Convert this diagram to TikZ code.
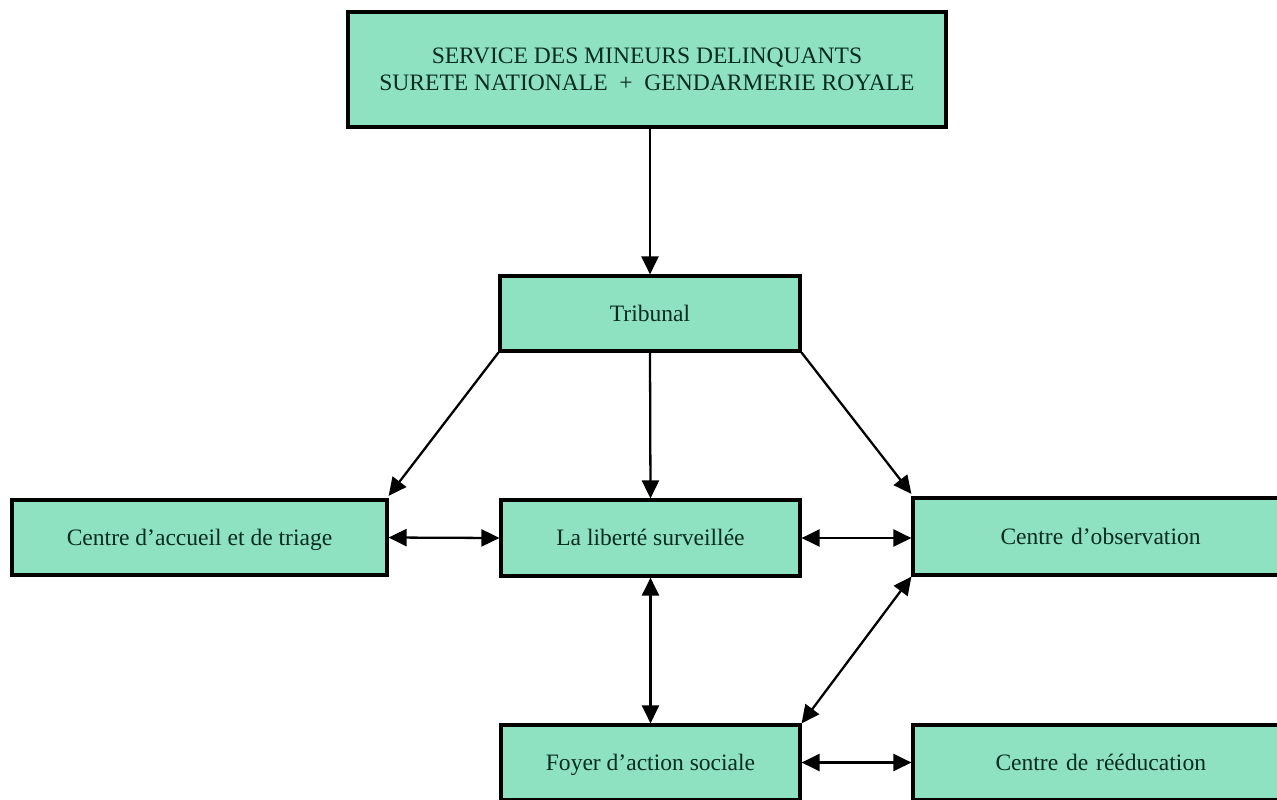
\documentclass[tikz,border=0pt]{standalone}
\usepackage{fontspec}
\setmainfont{Liberation Serif}
\definecolor{boxgreen}{RGB}{142,226,194}
\definecolor{textgreen}{RGB}{8,44,30}
\usetikzlibrary{arrows.meta, positioning}

\tikzset{
  orgbox/.style={draw=black, line width=1.8pt, fill=boxgreen, text=textgreen,
    inner sep=0pt, align=center, font=\fontsize{13.4}{15.6}\selectfont},
  linebox/.style={orgbox, text height=2.2ex, text depth=0.3ex},
  link/.style={line width=1.3pt, {Triangle[length=0.36cm, width=0.34cm]}-{Triangle[length=0.36cm, width=0.34cm]}},
  onelink/.style={line width=1.3pt, -{Triangle[length=0.36cm, width=0.34cm]}}
}

\begin{document}
\begin{tikzpicture}
  \useasboundingbox (0,0) rectangle (25.54,-15.98);
  \clip (0,0) rectangle (25.54,-15.98);

  % top service
  \node[orgbox, minimum width=11.96cm, minimum height=2.30cm] (service) at (12.94,-1.39)
    {SERVICE DES MINEURS DELINQUANTS\\SURETE NATIONALE \ + \ GENDARMERIE ROYALE};

  % court
  \node[linebox, minimum width=6.0cm, minimum height=1.5cm] (tribunal) at (13.0,-6.27) {Tribunal};

  % middle row
  \node[linebox, minimum width=7.5cm, minimum height=1.5cm] (accueil) at (3.99,-10.75)
    {Centre d'accueil et de triage};
  \node[linebox, minimum width=5.98cm, minimum height=1.52cm] (liberte) at (13.01,-10.76)
    {La liberté surveillée};
  \node[linebox, minimum width=7.54cm, minimum height=1.54cm, text width=7.34cm,
    align=left] (observation) at (22.03,-10.73) {\hspace{1.65cm}Centre d'observation};

  % bottom row
  \node[linebox, minimum width=5.98cm, minimum height=1.5cm] (foyer) at (13.01,-15.25)
    {Foyer d'action sociale};
  \node[linebox, minimum width=7.54cm, minimum height=1.5cm, text width=7.34cm,
    align=left] (reeducation) at (22.03,-15.25) {\hspace{1.55cm}Centre de rééducation};

  % arrows
  \draw[onelink] (service.south -| tribunal.north) -- (tribunal.north);
  \draw[onelink] (tribunal.south west) -- ([yshift=0.05cm]accueil.north east);
  \draw[onelink] (tribunal.south) -- (liberte.north);
  \draw[onelink] (tribunal.south east) -- ([yshift=0.05cm]observation.north west);
  \draw[link] (accueil.east) -- (liberte.west);
  \draw[link] (liberte.east) -- (liberte.east -| observation.west);
  \draw[link] (liberte.south) -- (foyer.north);
  \draw[link] (observation.south west) -- (foyer.north east);
  \draw[link] (foyer.east) -- (foyer.east -| reeducation.west);
\end{tikzpicture}
\end{document}
